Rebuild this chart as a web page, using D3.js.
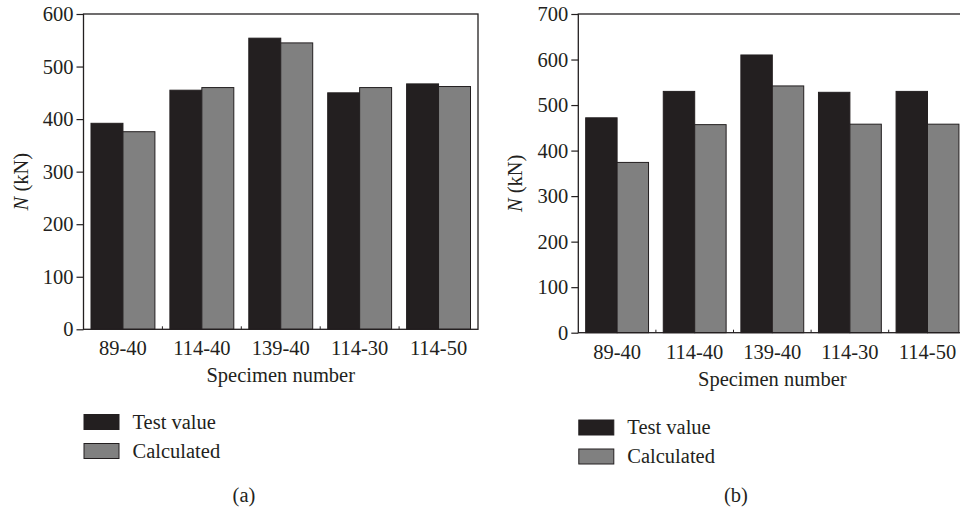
<!DOCTYPE html>
<html>
<head>
<meta charset="utf-8">
<script src="https://cdn.jsdelivr.net/npm/d3@7"></script>
<style>
  html, body { margin: 0; padding: 0; background: #fff; }
  svg { display: block; }
  text { font-family: "Liberation Serif", "Times New Roman", serif; fill: #231f20; }
</style>
</head>
<body>
<svg id="chart" width="960" height="509"></svg>
<script>
// Specimen labels shared by both panels
const categories = ["89-40", "114-40", "139-40", "114-30", "114-50"];
const seriesNames = ["Test value", "Calculated"];

// Panel (a): axial capacity N (kN)
const testA = [392, 455, 554, 450, 467];
const calcA = [376, 460, 545, 460, 462];
const ticksA = [0, 100, 200, 300, 400, 500, 600];

// Panel (b): axial capacity N (kN)
const testB = [472, 530, 610, 528, 530];
const calcB = [374, 457, 542, 458, 458];
const ticksB = [0, 100, 200, 300, 400, 500, 600, 700];

const INK = "#231f20";
const colors = ["#231f20", "#808080"];
const FS = 20.5;

const svg = d3.select("#chart");

function panel(opt) {
  const { x0, x1, y0, y1, test, calc, ticks, yMax, tag, legendY, tagX } = opt;
  const g = svg.append("g");

  const x = d3.scaleBand().domain(categories).range([x0, x1]).paddingInner(0.19).paddingOuter(0.095);
  const xs = d3.scaleBand().domain(seriesNames).range([0, x.bandwidth()]);
  const y = d3.scaleLinear().domain([0, yMax]).range([y1, y0]);

  const rows = categories.map((c, i) => ({ c, vals: [test[i], calc[i]] }));

  // Bars
  const grp = g.selectAll("g.grp").data(rows).join("g")
    .attr("transform", d => `translate(${x(d.c)},0)`);
  grp.selectAll("rect").data(d => d.vals.map((v, k) => ({ v, k }))).join("rect")
    .attr("x", d => xs(seriesNames[d.k]))
    .attr("width", xs.bandwidth())
    .attr("y", d => y(d.v))
    .attr("height", d => y(0) - y(d.v))
    .attr("fill", d => colors[d.k])
    .attr("stroke", INK)
    .attr("stroke-width", 1);

  // Frame
  g.append("rect")
    .attr("x", x0).attr("y", y0)
    .attr("width", x1 - x0).attr("height", y1 - y0)
    .attr("fill", "none").attr("stroke", INK).attr("stroke-width", 1.3);

  // Y axis
  const yAxis = d3.axisLeft(y).tickValues(ticks).tickSize(7).tickPadding(3).tickFormat(d3.format("d"));
  const ya = g.append("g").attr("transform", `translate(${x0},0)`).call(yAxis)
    .attr("font-family", null).attr("font-size", null);
  ya.select(".domain").remove();
  ya.selectAll("line").attr("stroke", INK).attr("stroke-width", 1.2);
  ya.selectAll("text").attr("font-size", FS).attr("fill", INK);

  // Small inward ticks at band boundaries on the baseline
  const bounds = categories.slice(1).map(c => x(c) - x.step() * x.paddingInner() / 2);
  g.selectAll("line.sep").data(bounds).join("line")
    .attr("x1", d => d).attr("x2", d => d)
    .attr("y1", y1).attr("y2", y1 - 3)
    .attr("stroke", INK).attr("stroke-width", 1);

  // X category labels
  g.selectAll("text.cat").data(categories).join("text")
    .attr("x", d => x(d) + x.bandwidth() / 2)
    .attr("y", y1 + 26)
    .attr("text-anchor", "middle")
    .attr("font-size", FS)
    .text(d => d);

  // X title
  g.append("text")
    .attr("x", (x0 + x1) / 2).attr("y", y1 + 53)
    .attr("text-anchor", "middle").attr("font-size", FS)
    .text("Specimen number");

  // Y title
  const yt = g.append("text")
    .attr("transform", `translate(${x0 - 56},${(y0 + y1) / 2 + 10}) rotate(-90)`)
    .attr("text-anchor", "middle").attr("font-size", FS);
  yt.append("tspan").attr("font-style", "italic").text("N");
  yt.append("tspan").text(" (kN)");

  // Legend
  seriesNames.forEach((s, k) => {
    const ly = legendY + k * 29;
    g.append("rect")
      .attr("x", x0 + 0.5).attr("y", ly)
      .attr("width", 35).attr("height", 15)
      .attr("fill", colors[k]).attr("stroke", INK).attr("stroke-width", 1);
    g.append("text")
      .attr("x", x0 + 49).attr("y", ly + 14)
      .attr("font-size", FS).text(s);
  });

  // Panel tag
  g.append("text")
    .attr("x", tagX).attr("y", 502)
    .attr("text-anchor", "middle").attr("font-size", FS)
    .text(tag);
}

panel({ x0: 83.5, x1: 478, y0: 14, y1: 329.3, test: testA, calc: calcA,
        ticks: ticksA, yMax: 600, tag: "(a)", legendY: 414.5, tagX: 244 });
panel({ x0: 578.3, x1: 966.3, y0: 14, y1: 332.7, test: testB, calc: calcB,
        ticks: ticksB, yMax: 700, tag: "(b)", legendY: 420, tagX: 736 });
</script>
</body>
</html>
